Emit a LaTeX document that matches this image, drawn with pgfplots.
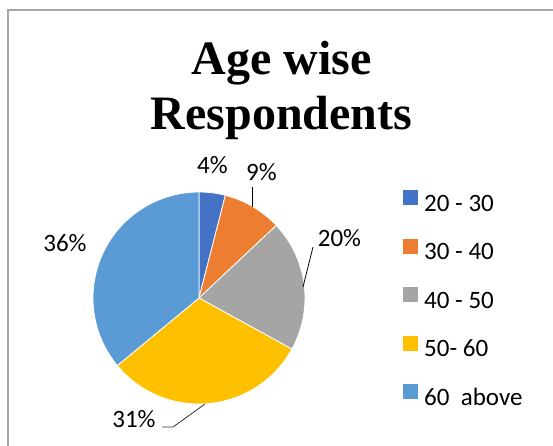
\documentclass[border=0pt]{standalone}
\usepackage{pgfplots}
\pgfplotsset{compat=1.18}
\usepackage{fontspec}
\setmainfont{Carlito}
\newfontfamily\titlefont{Liberation Serif}
\definecolor{c1}{HTML}{4472C4}
\definecolor{c2}{HTML}{ED7D31}
\definecolor{c3}{HTML}{A5A5A5}
\definecolor{c4}{HTML}{FFC000}
\definecolor{c5}{HTML}{5B9BD5}
\tikzset{lbl/.style={anchor=base, inner sep=0pt, font=\fontsize{25bp}{30bp}\selectfont},
  ttl/.style={anchor=base, inner sep=0pt, font=\titlefont\bfseries\fontsize{48bp}{48bp}\selectfont}}
\begin{document}
\begin{tikzpicture}
\begin{axis}[at={(0,0)}, anchor=south west, scale only axis,
  width=553bp, height=446bp, xmin=0, xmax=553, ymin=0, ymax=446,
  hide axis, clip=false,
  legend cell align=left,
  legend style={at={(axis cs:403,256)}, anchor=north west, draw=none, fill=none,
    inner sep=0pt, row sep=26bp, column sep=0pt, font=\fontsize{25bp}{30bp}\selectfont,
    nodes={inner sep=0pt}},
  legend image code/.code={\path[#1,draw=none] (0bp,-4bp) rectangle (15bp,11bp); \path[draw=none,fill=none] (0bp,0bp) -- (21bp,0bp);},
]
% border
\addplot[forget plot, color=black!35, line width=1.5bp] coordinates {(8,0) (8,436) (553,436)};
% pie slices: 4, 9, 20, 31, 36 percent, clockwise from 12 o'clock
\addplot[fill=c1, draw=white, line width=0.8bp, domain=75.6:90, samples=20, variable=\t] ({199+106*cos(t)},{148+106*sin(t)}) -- (axis cs:199,148) -- cycle;
\addlegendentry{\strut 20 - 30}
\addplot[fill=c2, draw=white, line width=0.8bp, domain=43.2:75.6, samples=30, variable=\t] ({199+106*cos(t)},{148+106*sin(t)}) -- (axis cs:199,148) -- cycle;
\addlegendentry{\strut 30 - 40}
\addplot[fill=c3, draw=white, line width=0.8bp, domain=-28.8:43.2, samples=60, variable=\t] ({199+106*cos(t)},{148+106*sin(t)}) -- (axis cs:199,148) -- cycle;
\addlegendentry{\strut 40 - 50}
\addplot[fill=c4, draw=white, line width=0.8bp, domain=-140.4:-28.8, samples=90, variable=\t] ({199+106*cos(t)},{148+106*sin(t)}) -- (axis cs:199,148) -- cycle;
\addlegendentry{\strut 50- 60}
\addplot[fill=c5, draw=white, line width=0.8bp, domain=-270:-140.4, samples=100, variable=\t] ({199+106*cos(t)},{148+106*sin(t)}) -- (axis cs:199,148) -- cycle;
\addlegendentry{\strut 60\ \ above}
% leader lines
\addplot[forget plot, black, line width=0.8bp] coordinates {(252,259) (252,239)};
\addplot[forget plot, black, line width=0.8bp] coordinates {(313,199) (303,159)};
\addplot[forget plot, black!80, line width=0.8bp] coordinates {(162,19) (173,19) (205,42)};
% labels
\node[lbl] at (axis cs:212.5,272) {4\%};
\node[lbl] at (axis cs:261.5,265) {9\%};
\node[lbl] at (axis cs:339.5,199) {20\%};
\node[lbl] at (axis cs:65,194) {36\%};
\node[lbl] at (axis cs:134,19) {31\%};
% title
\node[ttl] at (axis cs:281.5,371) {Age wise};
\node[ttl] at (axis cs:281.5,316) {Respondents};
\end{axis}
\pgfresetboundingbox
\useasboundingbox (0,0) rectangle (553bp,446bp);
\end{tikzpicture}
\end{document}
